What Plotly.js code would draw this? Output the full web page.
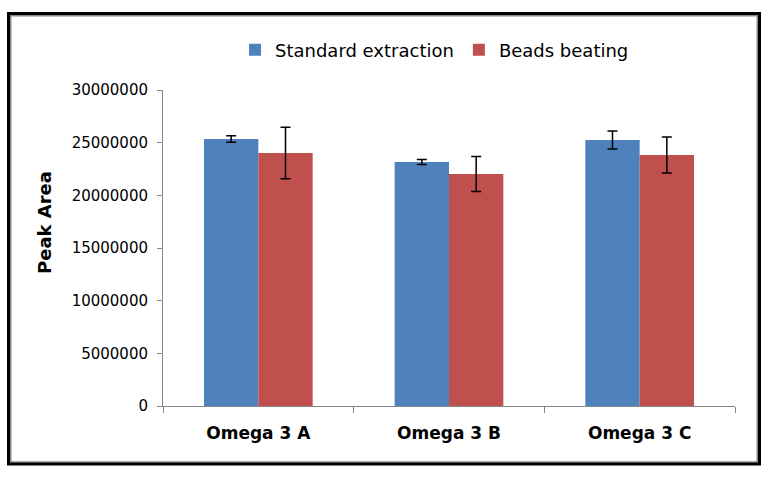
<!DOCTYPE html>
<html>
<head>
<meta charset="utf-8">
<script src="https://cdn.plot.ly/plotly-3.0.1.min.js"></script>
<style>html,body{margin:0;padding:0;background:#fff;}#chart{width:774px;height:483px;}</style>
</head>
<body>
<div id="chart"></div>
<script>
var categories = ["Omega 3 A", "Omega 3 B", "Omega 3 C"];
var seriesNames = ["Standard extraction", "Beads beating"];
var standardValues = [25350000, 23160000, 25250000];
var standardErrors = [300000, 240000, 850000];
var beadsValues = [24020000, 22030000, 23830000];
var beadsErrors = [2450000, 1660000, 1700000];
var yTickValues = [0, 5000000, 10000000, 15000000, 20000000, 25000000, 30000000];

var L = 163, R = 735, T = 90, B = 406;
function px(x){ return (x - L) / (R - L); }
function py(y){ return (B - y) / (B - T); }

var errStyle = {type: "data", visible: true, color: "#000000", thickness: 1.5, width: 5};

var traces = [
  {type: "bar", name: seriesNames[0], x: categories, y: standardValues,
   marker: {color: "#4F81BD"},
   error_y: Object.assign({array: standardErrors}, errStyle)},
  {type: "bar", name: seriesNames[1], x: categories, y: beadsValues,
   marker: {color: "#C0504D"},
   error_y: Object.assign({array: beadsErrors}, errStyle)}
];

var layout = {
  width: 774, height: 483,
  margin: {l: L, r: 774 - R, t: T, b: 483 - B},
  paper_bgcolor: "#ffffff", plot_bgcolor: "#ffffff",
  barmode: "group", bargap: 0.43, bargroupgap: 0,
  font: {family: "DejaVu Sans", color: "#000000"},
  showlegend: true,
  legend: {orientation: "h", x: px(235), y: py(50), xanchor: "left", yanchor: "middle",
    font: {size: 18, family: "DejaVu Sans", color: "#000"}, bgcolor: "rgba(0,0,0,0)",
    traceorder: "normal"},
  xaxis: {type: "category", showline: true, linecolor: "#868686", linewidth: 1,
    ticks: "outside", tickson: "boundaries", ticklen: 6, tickcolor: "#868686",
    tickfont: {size: 17, family: "DejaVu Sans", weight: "bold", color: "#000"},
    ticklabelstandoff: 12, showgrid: false, zeroline: false, fixedrange: true},
  yaxis: {range: [0, 30000000], tickvals: yTickValues, tickformat: "d",
    showline: true, linecolor: "#868686", linewidth: 1,
    ticks: "outside", ticklen: 5, tickcolor: "#868686",
    tickfont: {size: 15, family: "DejaVu Sans", color: "#000"},
    ticklabelstandoff: 6, showgrid: false, zeroline: false, fixedrange: true},
  annotations: [
    {text: "<b>Peak Area</b>", textangle: -90, xref: "paper", yref: "paper",
     x: px(44), y: py(223), xanchor: "center", yanchor: "middle", showarrow: false,
     font: {size: 18, family: "DejaVu Sans", color: "#000"}}
  ],
  shapes: [
    {type: "rect", xref: "paper", yref: "paper", x0: px(10.8), x1: px(757.2), y0: py(462), y1: py(15.8),
     line: {color: "#8a8a8a", width: 1.5}},
    {type: "rect", xref: "paper", yref: "paper", x0: px(8.5), x1: px(759.5), y0: py(464), y1: py(13.5),
     line: {color: "#000000", width: 3}}
  ]
};

Plotly.newPlot("chart", traces, layout, {displayModeBar: false, staticPlot: true});
</script>
</body>
</html>
